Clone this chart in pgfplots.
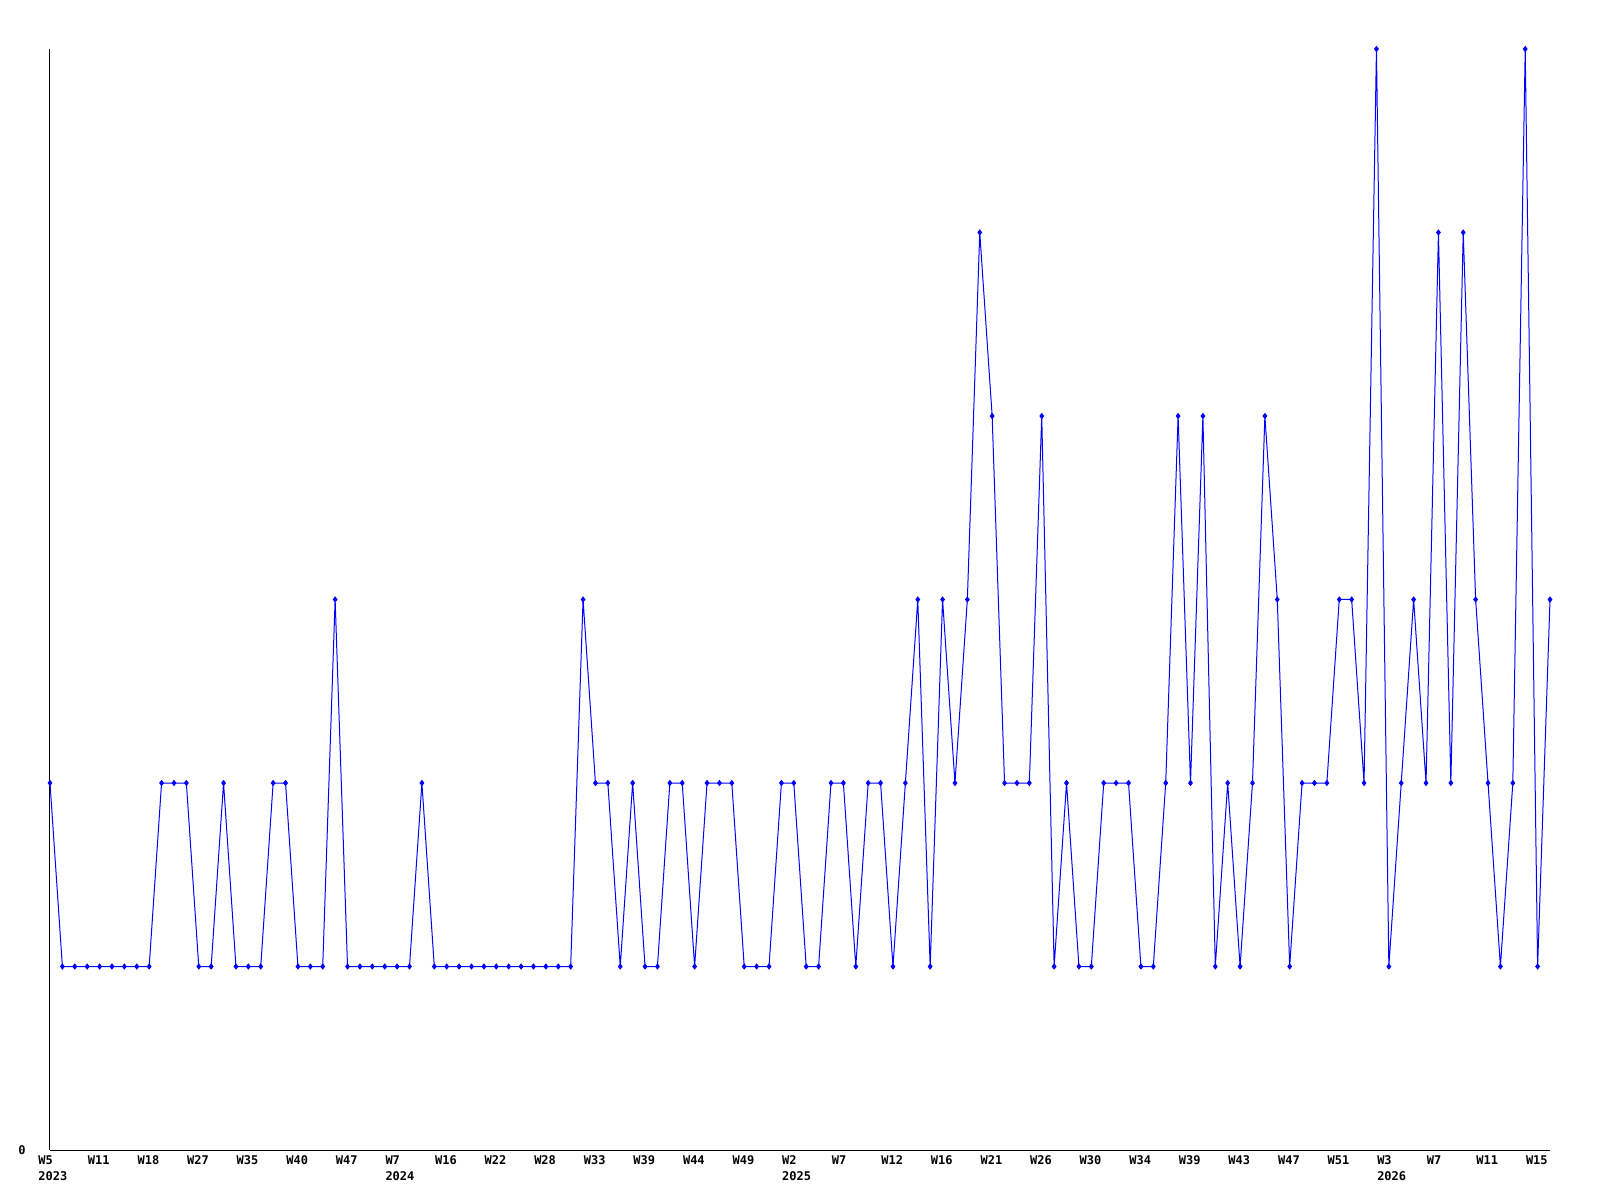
\documentclass[border=0pt]{standalone}
\usepackage{fontspec}
\setmonofont{DejaVu Sans Mono}
\usepackage{pgfplots}
\pgfplotsset{compat=1.18}
\pgfplotstableread{
i v
0 2
1 1
2 1
3 1
4 1
5 1
6 1
7 1
8 1
9 2
10 2
11 2
12 1
13 1
14 2
15 1
16 1
17 1
18 2
19 2
20 1
21 1
22 1
23 3
24 1
25 1
26 1
27 1
28 1
29 1
30 2
31 1
32 1
33 1
34 1
35 1
36 1
37 1
38 1
39 1
40 1
41 1
42 1
43 3
44 2
45 2
46 1
47 2
48 1
49 1
50 2
51 2
52 1
53 2
54 2
55 2
56 1
57 1
58 1
59 2
60 2
61 1
62 1
63 2
64 2
65 1
66 2
67 2
68 1
69 2
70 3
71 1
72 3
73 2
74 3
75 5
76 4
77 2
78 2
79 2
80 4
81 1
82 2
83 1
84 1
85 2
86 2
87 2
88 1
89 1
90 2
91 4
92 2
93 4
94 1
95 2
96 1
97 2
98 4
99 3
100 1
101 2
102 2
103 2
104 3
105 3
106 2
107 6
108 1
109 2
110 3
111 2
112 5
113 2
114 5
115 3
116 2
117 1
118 2
119 6
120 1
121 3
}\datatable
\begin{document}
\begin{tikzpicture}
\useasboundingbox (0,0) rectangle (800pt,600pt);
\begin{axis}[
  at={(25pt,25pt)}, anchor=south west,
  scale only axis, width=750pt, height=550.5pt,
  xmin=0, xmax=121, ymin=0, ymax=6,
  axis x line=bottom, axis y line=left,
  axis line style={-, black, line width=0.5pt},
  major tick length=0pt,
  xtick={0,4,...,120},
  xticklabels={{W5\\2023},W11,W18,W27,W35,W40,W47,{W7\\2024},W16,W22,W28,W33,W39,W44,W49,{W2\\2025},W7,W12,W16,W21,W26,W30,W34,W39,W43,W47,W51,{W3\\2026},W7,W11,W15},
  xticklabel style={align=left, anchor=north west, xshift=-6pt, yshift=-2.5pt, inner sep=0pt, font=\ttfamily\bfseries\fontsize{6}{8}\selectfont},
  ytick={0},
  yticklabels={0},
  yticklabel style={anchor=east, inner sep=0pt, xshift=-12pt, font=\ttfamily\bfseries\fontsize{6}{8}\selectfont},
  clip=false,
]
\addplot[color={rgb,255:red,0;green,0;blue,255}, line width=0.5pt, mark=diamond*, mark size=1.2pt] table[x=i, y=v] {\datatable};
\end{axis}
\end{tikzpicture}
\end{document}
